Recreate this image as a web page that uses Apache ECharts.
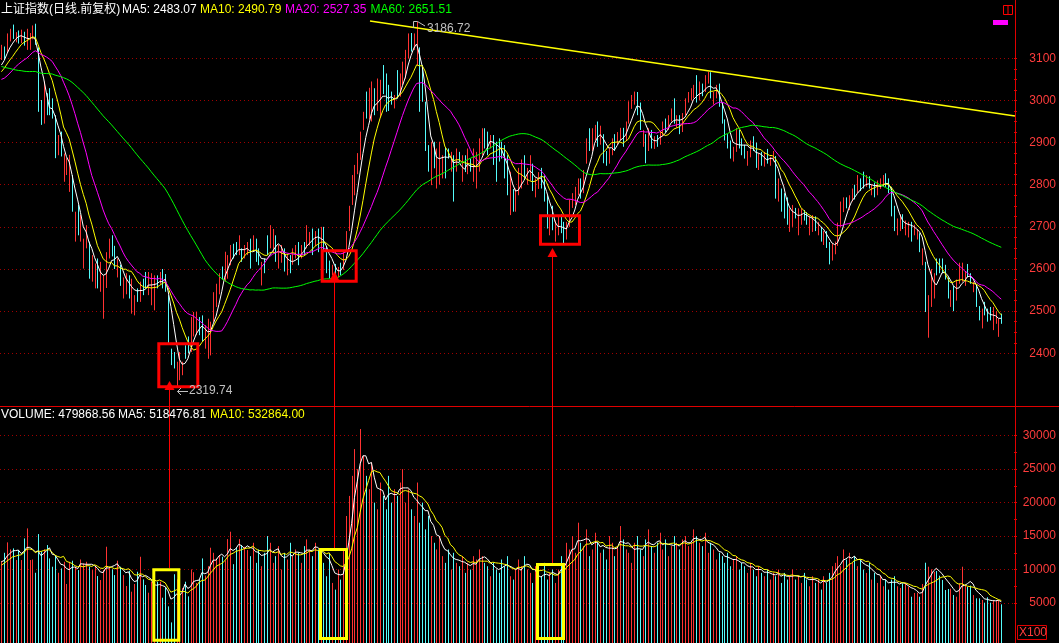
<!DOCTYPE html>
<html lang="zh-CN">
<head>
<meta charset="UTF-8">
<title>上证指数 日线</title>
<script src="https://cdn.jsdelivr.net/npm/echarts@6.0.0/dist/echarts.min.js"></script>
<style>
    html, body { margin: 0; padding: 0; background: #000; }
    #chart { width: 1059px; height: 643px; }
</style>
</head>
<body>
<div id="chart"></div>
<script>
// 图表左端之前的收盘价，只用来算开头几天的均线
const warmupCloses = [
    3240, 3250, 3230, 3260, 3250, 3220, 3200, 3210, 3180, 3160,
    3150, 3130, 3120, 3080, 3040, 3000, 2990, 3020, 3030, 3010,
    2990, 2980, 3010, 3020, 3040, 3060, 3070, 3050, 3060, 3070,
    3090, 3080, 3070, 3060, 3070, 3050, 3060, 3080, 3090, 3080,
    3060, 3040, 3020, 3010, 3000, 3030, 3050, 3040, 3050, 3020,
    3030, 3050, 3060, 3065, 3055, 3060, 3070, 3085, 3095
];
const warmupVolumes = [9800, 10500, 10200, 9900, 10500, 11500, 10800, 11200, 11030];

// 日K线
const opens = [
    3100, 3125, 3118, 3150, 3165, 3148, 3160, 3145, 3158, 3128,
    3132, 3155, 3170, 3125, 2995, 2950, 3012, 3000, 2990, 2960,
    2878, 2910, 2820, 2830, 2795, 2805, 2690, 2730, 2680, 2625,
    2650, 2660, 2590, 2575, 2600, 2560, 2540, 2560, 2640, 2665,
    2645, 2590, 2600, 2545, 2550, 2570, 2540, 2520, 2545, 2530,
    2570, 2570, 2560, 2530, 2545, 2580, 2572, 2592, 2582, 2535,
    2410, 2395, 2345, 2345, 2360, 2405, 2435, 2420, 2450, 2450,
    2470, 2480, 2425, 2410, 2420, 2480, 2530, 2550, 2600, 2585,
    2610, 2625, 2655, 2660, 2640, 2648, 2630, 2645, 2665, 2650,
    2665, 2645, 2580, 2615, 2665, 2665, 2655, 2675, 2625, 2620,
    2635, 2595, 2620, 2615, 2630, 2650, 2630, 2660, 2655, 2670,
    2685, 2665, 2690, 2655, 2690, 2650, 2610, 2588, 2605, 2585,
    2610, 2602, 2645, 2700, 2760, 2805, 2840, 2880, 2935, 2995,
    2960, 2970, 3020, 2980, 2995, 3060, 3040, 3010, 3015, 2990,
    3060, 3015, 3050, 3060, 3110, 3155, 3125, 3120, 3124, 3040,
    2990, 2870, 2820, 2890, 2850, 2840, 2840, 2880, 2885, 2860,
    2865, 2820, 2870, 2820, 2845, 2830, 2862, 2830, 2815, 2840,
    2885, 2925, 2905, 2895, 2915, 2900, 2905, 2890, 2860, 2850,
    2760, 2775, 2740, 2780, 2830, 2860, 2810, 2815, 2840, 2790,
    2795, 2830, 2820, 2775, 2685, 2730, 2670, 2690, 2720, 2695,
    2680, 2710, 2755, 2770, 2785, 2810, 2790, 2860, 2910, 2900,
    2925, 2940, 2910, 2915, 2870, 2855, 2880, 2915, 2900, 2910,
    2925, 2910, 2950, 2995, 3005, 3015, 2990, 2900, 2915, 2885,
    2925, 2895, 2910, 2900, 2925, 2950, 2935, 2958, 2980, 2950,
    2960, 2930, 2970, 3000, 3012, 3015, 3030, 3005, 3030, 3025,
    3050, 3060, 3000, 3010, 3035, 2990, 2945, 2905, 2890, 2860,
    2885, 2925, 2905, 2890, 2860, 2875, 2905, 2895, 2850, 2870,
    2850, 2875, 2855, 2865, 2865, 2780, 2790, 2775, 2765, 2705,
    2715, 2735, 2720, 2715, 2735, 2725, 2705, 2705, 2715, 2690,
    2695, 2670, 2685, 2660, 2630, 2650, 2665, 2705, 2745, 2765,
    2755, 2775, 2795, 2790, 2810, 2820, 2800, 2815, 2785, 2800,
    2790, 2795, 2800, 2820, 2805, 2790, 2740, 2690, 2705, 2720,
    2690, 2700, 2710, 2685, 2680, 2680, 2630, 2615, 2475, 2540,
    2560, 2605, 2610, 2615, 2600, 2575, 2525, 2550, 2530, 2570,
    2580, 2565, 2600, 2585, 2555, 2555, 2510, 2485, 2510, 2500,
    2495, 2490, 2475, 2465, 2490
];
const highs = [
    3132, 3128, 3159, 3170, 3180, 3162, 3166, 3168, 3163, 3170,
    3160, 3178, 3182, 3126, 3001, 3045, 3017, 3029, 3005, 2965,
    2918, 2926, 2874, 2863, 2871, 2823, 2736, 2752, 2728, 2672,
    2704, 2665, 2633, 2613, 2625, 2617, 2585, 2640, 2672, 2680,
    2655, 2625, 2610, 2580, 2590, 2585, 2577, 2538, 2554, 2570,
    2577, 2593, 2593, 2590, 2585, 2585, 2593, 2600, 2588, 2538,
    2411, 2403, 2380, 2403, 2380, 2419, 2440, 2486, 2498, 2498,
    2486, 2490, 2467, 2482, 2475, 2545, 2565, 2590, 2606, 2641,
    2633, 2657, 2660, 2664, 2680, 2649, 2657, 2664, 2672, 2680,
    2672, 2649, 2617, 2625, 2680, 2704, 2695, 2680, 2657, 2657,
    2649, 2633, 2633, 2649, 2657, 2664, 2657, 2664, 2704, 2688,
    2696, 2690, 2696, 2700, 2700, 2652, 2620, 2610, 2612, 2605,
    2615, 2645, 2690, 2750, 2823, 2847, 2875, 2926, 2973, 3021,
    3030, 3045, 3029, 3052, 3049, 3084, 3064, 3037, 3021, 3013,
    3072, 3064, 3092, 3120, 3159, 3160, 3159, 3186.72, 3126, 3084,
    2997, 2894, 2902, 2902, 2886, 2902, 2870, 2890, 2886, 2878,
    2870, 2886, 2878, 2870, 2870, 2886, 2862, 2886, 2878, 2910,
    2934, 2934, 2926, 2918, 2918, 2902, 2910, 2902, 2894, 2870,
    2831, 2790, 2791, 2840, 2860, 2870, 2840, 2870, 2850, 2815,
    2830, 2840, 2822, 2775, 2728, 2750, 2715, 2728, 2730, 2712,
    2712, 2765, 2780, 2795, 2815, 2815, 2835, 2910, 2934, 2934,
    2942, 2950, 2940, 2920, 2880, 2886, 2910, 2920, 2925, 2935,
    2935, 2950, 2998, 3013, 3021, 3020, 2995, 2930, 2920, 2934,
    2930, 2915, 2918, 2926, 2950, 2957, 2965, 2981, 3005, 2965,
    2965, 2970, 3005, 3020, 3029, 3037, 3060, 3045, 3040, 3060,
    3068, 3067, 3020, 3037, 3040, 2995, 2955, 2920, 2905, 2890,
    2935, 2930, 2910, 2895, 2880, 2905, 2915, 2900, 2875, 2878,
    2878, 2885, 2866, 2880, 2868, 2815, 2791, 2780, 2770, 2744,
    2752, 2745, 2744, 2744, 2740, 2735, 2725, 2728, 2725, 2712,
    2700, 2690, 2690, 2664, 2660, 2665, 2710, 2760, 2770, 2770,
    2775, 2791, 2800, 2823, 2815, 2831, 2823, 2820, 2800, 2805,
    2810, 2815, 2823, 2827, 2815, 2795, 2750, 2720, 2730, 2730,
    2715, 2712, 2712, 2705, 2695, 2685, 2649, 2617, 2538, 2600,
    2590, 2625, 2625, 2625, 2610, 2580, 2550, 2560, 2575, 2615,
    2615, 2595, 2612, 2590, 2570, 2560, 2512, 2506, 2522, 2506,
    2510, 2510, 2500, 2482, 2494
];
const lows = [
    3096, 3096, 3112, 3140, 3146, 3138, 3135, 3136, 3130, 3120,
    3120, 3145, 3132, 2973, 2942, 2945, 2965, 2965, 2957, 2863,
    2870, 2867, 2807, 2823, 2783, 2736, 2665, 2680, 2665, 2601,
    2649, 2577, 2570, 2554, 2554, 2546, 2482, 2555, 2625, 2630,
    2600, 2580, 2560, 2530, 2540, 2530, 2494, 2490, 2522, 2522,
    2538, 2554, 2538, 2514, 2502, 2554, 2565, 2554, 2546, 2423,
    2372, 2364, 2319.74, 2336, 2348, 2387, 2400, 2403, 2440, 2443,
    2443, 2427, 2411, 2387, 2395, 2475, 2510, 2540, 2575, 2570,
    2577, 2609, 2625, 2633, 2633, 2617, 2625, 2633, 2601, 2645,
    2617, 2609, 2561, 2590, 2633, 2649, 2640, 2617, 2601, 2615,
    2594, 2585, 2590, 2610, 2625, 2609, 2625, 2633, 2649, 2656,
    2633, 2655, 2640, 2640, 2645, 2590, 2578, 2585, 2575, 2580,
    2585, 2598, 2640, 2690, 2752, 2775, 2825, 2859, 2930, 2957,
    2955, 2950, 2965, 2975, 2960, 3015, 2973, 2975, 2990, 2981,
    3005, 3009, 3037, 3052, 3100, 3116, 3120, 3084, 2973, 2997,
    2880, 2831, 2799, 2839, 2791, 2800, 2815, 2815, 2862, 2831,
    2760, 2831, 2854, 2807, 2830, 2825, 2831, 2807, 2791, 2831,
    2870, 2886, 2870, 2886, 2847, 2807, 2855, 2862, 2815, 2775,
    2728, 2736, 2736, 2775, 2791, 2815, 2800, 2810, 2785, 2770,
    2790, 2791, 2760, 2696, 2680, 2692, 2665, 2680, 2685, 2661,
    2670, 2700, 2745, 2752, 2775, 2767, 2780, 2850, 2880, 2880,
    2905, 2890, 2895, 2851, 2845, 2850, 2870, 2880, 2895, 2905,
    2890, 2905, 2945, 2980, 2990, 2965, 2930, 2890, 2851, 2880,
    2886, 2885, 2890, 2895, 2915, 2925, 2930, 2950, 2945, 2935,
    2920, 2925, 2965, 2995, 3000, 3005, 2995, 3000, 3010, 3020,
    3040, 3005, 2990, 3005, 2985, 2945, 2905, 2886, 2862, 2855,
    2878, 2886, 2870, 2862, 2845, 2865, 2880, 2840, 2835, 2845,
    2843, 2850, 2845, 2855, 2767, 2760, 2736, 2720, 2705, 2688,
    2700, 2720, 2680, 2705, 2715, 2705, 2680, 2688, 2690, 2680,
    2665, 2657, 2650, 2611, 2620, 2635, 2655, 2700, 2735, 2744,
    2740, 2760, 2765, 2780, 2785, 2791, 2795, 2791, 2775, 2770,
    2775, 2790, 2795, 2795, 2780, 2725, 2690, 2680, 2690, 2695,
    2680, 2675, 2665, 2680, 2670, 2640, 2609, 2498, 2437, 2510,
    2530, 2585, 2590, 2590, 2575, 2530, 2510, 2500, 2525, 2565,
    2570, 2560, 2580, 2565, 2545, 2510, 2478, 2459, 2490, 2475,
    2478, 2455, 2470, 2439, 2470
];
const closes = [
    3110, 3115, 3150, 3155, 3150, 3155, 3148, 3160, 3140, 3135,
    3150, 3165, 3135, 2985, 2960, 3010, 2985, 2975, 2970, 2875,
    2900, 2880, 2830, 2850, 2810, 2750, 2720, 2690, 2700, 2640,
    2690, 2600, 2615, 2590, 2560, 2600, 2560, 2630, 2660, 2650,
    2610, 2600, 2570, 2555, 2560, 2560, 2550, 2530, 2540, 2565,
    2560, 2565, 2580, 2540, 2570, 2570, 2590, 2580, 2570, 2430,
    2385, 2375, 2360, 2380, 2370, 2395, 2430, 2470, 2480, 2455,
    2450, 2470, 2440, 2440, 2460, 2540, 2560, 2580, 2590, 2630,
    2625, 2650, 2640, 2645, 2670, 2625, 2650, 2655, 2610, 2665,
    2640, 2620, 2590, 2605, 2660, 2690, 2665, 2640, 2645, 2630,
    2610, 2605, 2612, 2630, 2645, 2632, 2648, 2652, 2690, 2680,
    2668, 2682, 2660, 2675, 2655, 2605, 2590, 2600, 2592, 2595,
    2600, 2640, 2680, 2740, 2800, 2830, 2860, 2920, 2960, 2990,
    2975, 3000, 3010, 2990, 3030, 3020, 3000, 2985, 3010, 3005,
    3020, 3055, 3085, 3110, 3150, 3130, 3145, 3135, 2985, 3010,
    2894, 2838, 2852, 2884, 2860, 2875, 2850, 2860, 2880, 2870,
    2800, 2860, 2855, 2830, 2840, 2860, 2835, 2850, 2830, 2880,
    2915, 2910, 2900, 2910, 2870, 2895, 2880, 2870, 2820, 2790,
    2780, 2750, 2785, 2830, 2850, 2835, 2820, 2835, 2795, 2805,
    2820, 2825, 2770, 2700, 2690, 2720, 2680, 2715, 2700, 2675,
    2705, 2760, 2770, 2790, 2800, 2780, 2830, 2900, 2905, 2920,
    2935, 2900, 2935, 2860, 2860, 2880, 2905, 2905, 2915, 2920,
    2905, 2945, 2990, 3000, 3010, 2990, 2935, 2910, 2880, 2930,
    2900, 2905, 2905, 2920, 2945, 2935, 2955, 2975, 2950, 2955,
    2930, 2965, 3000, 3010, 3015, 3020, 3000, 3030, 3025, 3050,
    3055, 3010, 3005, 3030, 2990, 2950, 2910, 2900, 2875, 2870,
    2930, 2900, 2895, 2875, 2870, 2895, 2900, 2845, 2865, 2855,
    2860, 2870, 2860, 2870, 2800, 2790, 2750, 2765, 2720, 2710,
    2740, 2730, 2735, 2725, 2730, 2720, 2710, 2720, 2695, 2700,
    2680, 2680, 2665, 2640, 2645, 2660, 2700, 2745, 2750, 2760,
    2765, 2780, 2790, 2800, 2800, 2800, 2810, 2800, 2790, 2790,
    2800, 2800, 2810, 2815, 2790, 2735, 2720, 2700, 2710, 2715,
    2700, 2705, 2690, 2695, 2685, 2670, 2640, 2530, 2530, 2580,
    2570, 2600, 2600, 2605, 2585, 2535, 2545, 2535, 2570, 2590,
    2585, 2575, 2590, 2575, 2560, 2520, 2505, 2490, 2500, 2480,
    2485, 2500, 2480, 2470, 2480
];
// 成交量，单位与右侧刻度一致（X100）
const volumes = [
    11270, 12500, 14060, 13010, 13160, 11420, 12910, 11420, 14650, 16150,
    11420, 11500, 9520, 15300, 12660, 13010, 13660, 11660, 10420, 12160,
    9520, 10170, 11160, 7840, 11160, 11320, 10420, 9920, 11500, 10920,
    11160, 10420, 9920, 10420, 9030, 8430, 9920, 13410, 10420, 10020,
    9170, 11320, 10420, 9170, 7540, 9820, 6690, 7840, 9670, 11910,
    8530, 7690, 6540, 8180, 7690, 8180, 8180, 5790, 7340, 4500,
    2100, 9300, 8530, 5900, 7240, 8180, 5990, 10010, 9600, 8000,
    8500, 11660, 9100, 10500, 13260, 12500, 11660, 12160, 11910, 11320,
    14550, 15650, 10800, 13260, 14550, 13660, 13400, 12910, 12000, 14000,
    11000, 13000, 10500, 12500, 15000, 14000, 11000, 12000, 13500, 10000,
    12500, 11500, 14000, 12000, 13000, 12500, 11000, 13500, 14500, 13000,
    12000, 14000, 13000, 12500, 11000, 9000, 12500, 8000, 7000, 10000,
    8500, 13000, 18000, 21000, 24000, 28000, 25000, 31000, 27000, 24000,
    22000, 26000, 20000, 19000, 23000, 21000, 19000, 24000, 20000, 22000,
    21000, 23000, 25000, 20000, 22000, 19000, 18000, 23000, 17000, 20000,
    16000, 18000, 15000, 14000, 13000, 15000, 12000, 11000, 13000, 10000,
    12500, 11000, 10500, 12000, 9500, 11000, 10000, 12000, 11500, 13000,
    12000, 11000, 10500, 9000, 11000, 10000, 9500, 11500, 10500, 12000,
    9000, 8500, 10000, 11500, 10500, 12000, 10000, 9500, 8000, 10500,
    7500, 9000, 11000, 8500, 9500, 10000, 8000, 10000, 12000, 11000,
    14000, 13000, 15000, 12500, 17000, 14000, 13500, 16000, 12000, 13000,
    15500, 14000, 12500, 13000, 11500, 15000, 14000, 12000, 13500, 16500,
    14500, 13000, 12500, 11000, 14000, 15000, 13000, 12000, 14500, 16000,
    13500, 12500, 14000, 15500, 13000, 14500, 12000, 13500, 15000, 14000,
    13000, 14500, 15000, 13500, 14000, 16000, 15000, 14000, 13500, 15500,
    12500, 14000, 13000, 11500, 12500, 12000, 11000, 12500, 10500, 11500,
    12000, 10000, 11000, 10500, 9500, 11000, 10000, 9000, 10500, 9500,
    9000, 10000, 8500, 9500, 9000, 10000, 8000, 9500, 8500, 9000,
    10000, 8500, 9000, 8000, 9500, 8500, 7500, 9000, 8000, 8500,
    7000, 9000, 8000, 9500, 10500, 11000, 12000, 10500, 13000, 11500,
    12500, 11000, 12000, 10500, 11500, 10000, 9500, 11000, 8500, 9500,
    8000, 9000, 7500, 8500, 7000, 8500, 9000, 7500, 7240, 7940,
    7940, 7430, 5940, 6500, 6540, 5940, 7840, 11020, 10420, 10030,
    9670, 9780, 9080, 8430, 6940, 7090, 7140, 6190, 5940, 7940,
    10420, 7690, 7430, 7600, 6190, 5700, 5700, 5450, 5050, 5850,
    5050, 5350, 5350, 5450, 4799
];

// 刻度
const priceTicks = { min: 2400, max: 3100, interval: 100 };
const volumeTicks = { min: 5000, max: 30000, interval: 5000 };

// 顶部文字
const priceTitle = '上证指数(日线.前复权)';
const priceMaTexts = ['MA5: 2483.07', 'MA10: 2490.79', 'MA20: 2527.35', 'MA60: 2651.51'];
const volumeTexts = ['VOLUME: 479868.56', 'MA5: 518476.81', 'MA10: 532864.00'];
const highLabel = '3186.72';
const lowLabel = '2319.74';

const UP_COLOR = '#ff3232';
const DOWN_COLOR = '#54fcfc';
const AXIS_RED = '#e00000';
const GRID_RED = '#a00000';
const LABEL_RED = '#ff3c3c';
const FONT = '"Liberation Sans", "Noto Sans CJK SC", sans-serif';

// 均线：前面接上 warmup 数据再算
function calcMA(values, warmup, n) {
    const all = warmup.concat(values);
    const out = [];
    for (let i = warmup.length; i < all.length; i++) {
        let sum = 0;
        for (let k = i - n + 1; k <= i; k++) sum += all[k];
        out.push(+(sum / n).toFixed(2));
    }
    return out;
}

const ma5 = calcMA(closes, warmupCloses, 5);
const ma10 = calcMA(closes, warmupCloses, 10);
const ma20 = calcMA(closes, warmupCloses, 20);
const ma60 = calcMA(closes, warmupCloses, 60);
const volMa5 = calcMA(volumes, warmupVolumes, 5);
const volMa10 = calcMA(volumes, warmupVolumes, 10);

// 右边留几根空位
const categories = closes.map((_, i) => 'D' + i).concat(['P0', 'P1', 'P2', 'P3']);

function isUp(i) {
    return closes[i] >= opens[i];
}

function renderCandle(params, api) {
    const i = api.value(0);
    const top = api.coord([i, api.value(4)]);
    const bottom = api.coord([i, api.value(3)]);
    const x = Math.round(top[0]) + 0.5;
    return {
        type: 'line',
        shape: { x1: x, y1: top[1], x2: x, y2: bottom[1] },
        style: { stroke: isUp(i) ? UP_COLOR : DOWN_COLOR, lineWidth: 1 }
    };
}

function renderVolume(params, api) {
    const i = api.value(0);
    const top = api.coord([i, api.value(1)]);
    const x = Math.round(top[0]) + 0.5;
    return {
        type: 'line',
        shape: { x1: x, y1: top[1], x2: x, y2: api.getHeight() },
        style: { stroke: isUp(i) ? UP_COLOR : DOWN_COLOR, lineWidth: 1 }
    };
}

function maLine(name, data, color, xi, yi) {
    return {
        name: name,
        type: 'line',
        xAxisIndex: xi,
        yAxisIndex: yi,
        data: data,
        symbol: 'none',
        clip: false,
        lineStyle: { color: color, width: 1 },
        z: 3
    };
}

function valueAxis(gridIndex, ticks, minorSplit) {
    return {
        type: 'value',
        gridIndex: gridIndex,
        position: 'right',
        min: ticks.min,
        max: ticks.max,
        interval: ticks.interval,
        axisLine: { show: false },
        axisTick: { show: true, length: 3, lineStyle: { color: AXIS_RED } },
        minorTick: { show: true, splitNumber: minorSplit, length: 3, lineStyle: { color: AXIS_RED } },
        splitLine: { show: true, lineStyle: { color: GRID_RED, type: [1, 3], width: 1 } },
        axisLabel: {
            color: LABEL_RED,
            fontSize: 12,
            fontFamily: FONT,
            align: 'right',
            margin: 42,
            formatter: v => String(v)
        }
    };
}

function text(str, x, y, color, size) {
    return {
        type: 'text',
        z: 10,
        style: {
            text: str, x: x, y: y, fill: color,
            font: (size || 12) + 'px ' + FONT,
            verticalAlign: 'middle', align: 'left'
        }
    };
}

function line(x1, y1, x2, y2, color, w) {
    return {
        type: 'line', z: 10,
        shape: { x1: x1, y1: y1, x2: x2, y2: y2 },
        style: { stroke: color, lineWidth: w || 1 }
    };
}

function box(x, y, w, h, color) {
    return {
        type: 'rect', z: 10,
        shape: { x: x, y: y, width: w, height: h },
        style: { fill: 'none', stroke: color, lineWidth: 3 }
    };
}

function arrowHead(x, yTop, yBase) {
    return {
        type: 'polygon', z: 10,
        shape: { points: [[x, yTop], [x - 5, yBase], [x + 5, yBase]] },
        style: { fill: '#ff0000' }
    };
}

const graphics = [
    // 坐标轴竖线和上下分隔线
    line(1015.5, 0, 1015.5, 643, AXIS_RED),
    line(0, 406.5, 1059, 406.5, AXIS_RED),
    // 压力线
    line(370, 21, 1015, 116, '#ffff00', 1.5),
    // 标注的三个底
    box(158.8, 343.8, 39, 43, '#ff0000'),
    box(322.2, 250.8, 34, 30.4, '#ff0000'),
    box(540.5, 215.8, 39, 28.4, '#ff0000'),
    box(153.8, 569.8, 25, 70.4, '#ffff00'),
    box(320.5, 549.5, 26, 89, '#ffff00'),
    box(537.5, 564.5, 26, 74, '#ffff00'),
    line(169.5, 390, 169.5, 568, '#ff0000'),
    line(334.5, 281, 334.5, 548, '#ff0000'),
    line(552.5, 257, 552.5, 563, '#ff0000'),
    arrowHead(169.5, 381, 390),
    arrowHead(334.5, 271, 281),
    arrowHead(552.5, 248, 257),
    // 最高最低价
    {
        type: 'polyline', z: 10,
        shape: { points: [[413.5, 28], [413.5, 21.5], [417.5, 21.5], [425, 26]] },
        style: { stroke: '#c0c0c0', lineWidth: 1, fill: 'none' }
    },
    text(highLabel, 427, 29, '#c0c0c0'),
    {
        type: 'polyline', z: 10,
        shape: { points: [[181, 388], [177.5, 391.5], [181, 395]] },
        style: { stroke: '#c0c0c0', lineWidth: 1, fill: 'none' }
    },
    line(177.5, 391.5, 188, 391.5, '#c0c0c0'),
    text(lowLabel, 189, 391, '#c0c0c0'),
    // 图例文字
    text(priceTitle, 1, 10, '#ffffff'),
    text(priceMaTexts[0], 122, 10, '#ffffff'),
    text(priceMaTexts[1], 200, 10, '#ffff00'),
    text(priceMaTexts[2], 285, 10, '#ff00ff'),
    text(priceMaTexts[3], 370.5, 10, '#00ff00'),
    text(volumeTexts[0], 1, 415, '#ffffff'),
    text(volumeTexts[1], 118, 415, '#ffffff'),
    text(volumeTexts[2], 210, 415, '#ffff00'),
    // 右下角 X100
    {
        type: 'rect', z: 10,
        shape: { x: 1017.5, y: 625.5, width: 29, height: 14 },
        style: { fill: 'none', stroke: AXIS_RED, lineWidth: 1 }
    },
    text('X100', 1019, 633, LABEL_RED),
    // 右上角小图标
    {
        type: 'rect', z: 10,
        shape: { x: 1003.5, y: 5.5, width: 9, height: 9 },
        style: { fill: 'none', stroke: '#ff0000', lineWidth: 1 }
    },
    line(1008, 5.5, 1008, 14.5, '#ff0000'),
    {
        type: 'rect', z: 10,
        shape: { x: 993, y: 20, width: 15, height: 5 },
        style: { fill: '#ff00ff' }
    }
];

const chart = echarts.init(document.getElementById('chart'), null, { renderer: 'canvas' });

const option = {
    backgroundColor: '#000000',
    animation: false,
    grid: [
        { left: 0, right: 44, top: 58.3, height: 295 },
        { left: 0, right: 44, top: 435.7, height: 167.3 }
    ],
    xAxis: [0, 1].map(g => ({
        type: 'category',
        gridIndex: g,
        data: categories,
        boundaryGap: true,
        axisLine: { show: false },
        axisTick: { show: false },
        axisLabel: { show: false },
        splitLine: { show: false }
    })),
    yAxis: [
        valueAxis(0, priceTicks, 4),
        valueAxis(1, volumeTicks, 2)
    ],
    series: [
        {
            name: 'K线',
            type: 'custom',
            xAxisIndex: 0,
            yAxisIndex: 0,
            clip: false,
            encode: { x: 0, y: [1, 2, 3, 4] },
            data: closes.map((c, i) => [i, opens[i], c, lows[i], highs[i]]),
            renderItem: renderCandle,
            z: 2
        },
        maLine('MA5', ma5, '#ffffff', 0, 0),
        maLine('MA10', ma10, '#ffff00', 0, 0),
        maLine('MA20', ma20, '#ff00ff', 0, 0),
        maLine('MA60', ma60, '#00ff00', 0, 0),
        {
            name: 'VOLUME',
            type: 'custom',
            xAxisIndex: 1,
            yAxisIndex: 1,
            clip: false,
            encode: { x: 0, y: 1 },
            data: volumes.map((v, i) => [i, v]),
            renderItem: renderVolume,
            z: 2
        },
        maLine('VMA5', volMa5, '#ffffff', 1, 1),
        maLine('VMA10', volMa10, '#ffff00', 1, 1)
    ],
    graphic: graphics
};

chart.setOption(option);
</script>
</body>
</html>
